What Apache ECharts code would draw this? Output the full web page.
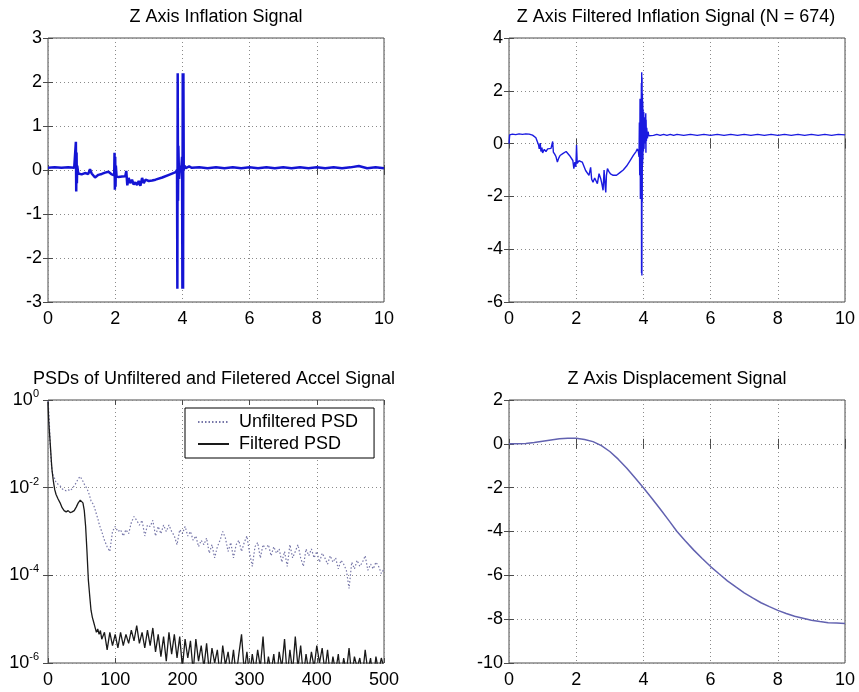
<!DOCTYPE html>
<html><head><meta charset="utf-8">
<script src="https://cdn.jsdelivr.net/npm/echarts@6/dist/echarts.min.js"></script>
<style>html,body{margin:0;padding:0;background:#fff}#c{width:859px;height:692px}</style>
</head><body><div id="c"></div>
<script>
const FONT = 'Liberation Sans, Arial, Helvetica, sans-serif';
const FRAME = '#4a4a4a';

const panelTitles = [
  'Z Axis Inflation Signal',
  'Z Axis Filtered Inflation Signal (N = 674)',
  'PSDs of Unfiltered and Filetered Accel Signal',
  'Z Axis Displacement Signal'
];
const legendNames = ['Unfiltered PSD', 'Filtered PSD'];

// Panel 1: [time s, value]
const inflation = [
  [0,0.05],[0.2,0.06],[0.4,0.05],[0.6,0.06],[0.78,0.05],[0.82,0.02],[0.83,0.64],[0.84,-0.49],[0.85,0.4],[0.86,-0.3],
  [0.87,0.1],[0.9,-0.08],[0.95,-0.04],[1.0,-0.1],[1.1,-0.07],[1.2,-0.09],[1.25,0.02],[1.3,-0.08],[1.4,-0.17],[1.5,-0.11],
  [1.6,-0.09],[1.7,-0.06],[1.8,-0.04],[1.9,-0.1],[1.97,-0.12],[1.98,0.39],[1.99,-0.45],[2.0,0.3],[2.01,-0.38],[2.02,0.1],
  [2.04,-0.15],[2.1,-0.16],[2.2,-0.15],[2.3,-0.14],[2.33,-0.02],[2.36,-0.35],[2.4,-0.18],[2.45,-0.3],[2.5,-0.22],[2.55,-0.33],
  [2.6,-0.28],[2.65,-0.34],[2.7,-0.25],[2.75,-0.36],[2.8,-0.18],[2.85,-0.3],[2.9,-0.22],[3.0,-0.25],[3.1,-0.24],[3.2,-0.22],
  [3.4,-0.17],[3.6,-0.11],[3.8,-0.05],[3.84,0.0],[3.85,-2.7],[3.86,2.2],[3.87,-0.7],[3.88,0.55],[3.9,-0.2],[3.93,0.1],
  [3.96,-0.05],[3.99,0.3],[4.0,-2.7],[4.01,2.2],[4.02,-2.7],[4.03,2.2],[4.04,0.0],[4.07,0.1],[4.1,0.04],[4.2,0.08],
  [4.24,0.11],[4.28,0.05],[4.5,0.06],[4.75,0.04],[5.0,0.06],[5.25,0.04],[5.5,0.06],[5.75,0.04],[6.0,0.06],[6.25,0.04],
  [6.5,0.06],[6.75,0.04],[7.0,0.06],[7.25,0.04],[7.5,0.06],[7.75,0.04],[8.0,0.06],[8.25,0.04],[8.5,0.06],[8.75,0.04],
  [9.0,0.06],[9.25,0.09],[9.5,0.04],[9.75,0.06],[10.0,0.04]
];

// Panel 2: [time s, value]
const filtered = [
  [0,0.0],[0.02,0.33],[0.1,0.36],[0.2,0.34],[0.3,0.37],[0.4,0.35],[0.5,0.37],[0.6,0.36],[0.7,0.32],[0.8,0.22],
  [0.85,0.15],[0.88,-0.05],[0.9,-0.2],[0.93,0.02],[0.95,-0.3],[0.98,-0.15],[1.0,-0.35],[1.05,-0.22],[1.1,-0.3],[1.15,-0.2],
  [1.2,-0.25],[1.25,-0.18],[1.3,0.08],[1.32,-0.32],[1.36,-0.4],[1.4,-0.5],[1.44,-0.7],[1.48,-0.55],[1.52,-0.45],[1.56,-0.5],
  [1.6,-0.38],[1.65,-0.42],[1.7,-0.3],[1.75,-0.35],[1.8,-0.45],[1.85,-0.5],[1.9,-0.64],[1.93,-0.95],[1.96,-0.7],[1.99,-0.88],
  [2.01,-0.05],[2.03,-0.75],[2.08,-0.65],[2.13,-0.58],[2.18,-0.7],[2.23,-0.64],[2.28,-1.02],[2.33,-0.95],[2.38,-1.2],[2.43,-0.9],
  [2.46,-1.35],[2.5,-1.46],[2.55,-1.3],[2.58,-1.25],[2.63,-1.52],[2.68,-1.14],[2.73,-1.33],[2.76,-1.5],[2.8,-1.77],[2.83,-1.0],
  [2.86,-1.6],[2.88,-1.85],[2.9,-1.2],[2.93,-0.95],[2.97,-1.05],[3.02,-1.15],[3.1,-1.2],[3.2,-1.2],[3.3,-1.1],[3.4,-1.0],
  [3.5,-0.85],[3.6,-0.65],[3.7,-0.45],[3.78,-0.3],[3.82,-0.2],[3.85,-0.3],[3.87,-0.5],[3.88,0.8],[3.89,-1.2],[3.9,1.7],
  [3.91,-2.1],[3.92,1.5],[3.93,-1.0],[3.94,2.3],[3.945,-4.9],[3.95,2.7],[3.955,-5.0],[3.96,2.5],[3.965,-2.2],[3.97,1.9],
  [3.975,-0.8],[3.98,1.6],[3.985,-0.6],[3.99,1.3],[4.0,-0.3],[4.01,1.2],[4.02,-0.2],[4.03,1.0],[4.04,0.0],[4.05,0.8],
  [4.06,0.1],[4.07,1.15],[4.075,-0.35],[4.08,0.9],[4.09,0.1],[4.1,0.6],[4.12,0.2],[4.14,0.45],[4.16,0.3],[4.2,0.35],
  [4.3,0.31],[4.4,0.35],[4.5,0.31],[4.6,0.35],[4.7,0.31],[4.8,0.35],[4.9,0.31],[5.0,0.35],[5.2,0.31],[5.4,0.35],
  [5.6,0.31],[5.8,0.35],[6.0,0.31],[6.2,0.35],[6.4,0.31],[6.6,0.35],[6.8,0.31],[7.0,0.35],[7.2,0.31],[7.4,0.35],
  [7.6,0.31],[7.8,0.35],[8.0,0.31],[8.2,0.35],[8.4,0.31],[8.6,0.35],[8.8,0.31],[9.0,0.35],[9.2,0.31],[9.4,0.35],
  [9.6,0.31],[9.8,0.35],[10.0,0.33]
];

// Panel 3: PSDs
const freq = [
  0,1,2,3,4,5,6,8,10,12, 15,18,21,24,27,30,33,36,39,42, 45,48,50,52,54,56,58,60,62,64, 66,68,70,72,74,76,78,80,
  84,88,92,96,100,104,108,112,116,120,
  124,128,132,136,140,144,148,152,156,160,
  164,168,172,176,180,184,188,192,196,200,
  204,208,212,216,220,224,228,232,236,240,
  244,248,252,256,260,264,268,272,276,280,
  284,288,292,296,300,304,308,312,316,320,
  324,328,332,336,340,344,348,352,356,360,
  364,368,372,376,380,384,388,392,396,400,
  404,408,412,416,420,424,428,432,436,440,
  444,448,452,456,460,464,468,472,476,480,
  484,488,492,496,500
];
const psdUnfiltered = [
  0.95,0.6,0.3,0.12,0.06,0.035,0.025,0.018,0.016,0.013, 0.012,0.011,0.0095,0.0088,0.0085,0.009,0.0085,0.0095,0.011,0.013,
  0.016,0.018,0.017,0.014,0.012,0.011,0.0095,0.008,0.0065,0.005, 0.0045,0.004,0.0032,0.0025,0.002,0.0015,0.0012,0.001,
  6.3e-4,4.5e-4,3.5e-4,1.0e-3,1.3e-3,1.0e-3,1.1e-3,7.9e-4,1.1e-3,8.9e-4,
  1.6e-3,2.2e-3,1.8e-3,1.4e-3,1.8e-3,7.9e-4,1.4e-3,1.3e-3,1.8e-3,7.9e-4,
  1.3e-3,8.9e-4,1.4e-3,1.0e-3,1.4e-3,1.0e-3,7.9e-4,5.0e-4,1.1e-3,8.9e-4,
  1.3e-3,7.9e-4,1.0e-3,6.3e-4,7.9e-4,4.5e-4,6.3e-4,5.0e-4,7.1e-4,3.2e-4,
  5.0e-4,2.5e-4,4.5e-4,6.3e-4,1.0e-3,7.1e-4,3.5e-4,5.6e-4,2.5e-4,5.0e-4,
  6.3e-4,3.5e-4,5.6e-4,7.9e-4,3.2e-4,1.6e-4,4.5e-4,5.6e-4,2.5e-4,5.0e-4,
  4.0e-4,5.0e-4,2.8e-4,4.5e-4,3.2e-4,4.0e-4,2.0e-4,3.5e-4,1.6e-4,5.0e-4,
  2.5e-4,3.5e-4,5.0e-4,2.5e-4,1.6e-4,4.0e-4,2.8e-4,4.0e-4,2.5e-4,3.5e-4,
  2.0e-4,3.2e-4,2.5e-4,1.8e-4,2.8e-4,2.0e-4,2.5e-4,1.4e-4,2.2e-4,1.8e-4,
  1.3e-4,5.0e-5,2.0e-4,1.4e-4,2.2e-4,1.6e-4,2.0e-4,2.8e-4,1.3e-4,1.8e-4,
  1.4e-4,2.0e-4,1.6e-4,1.1e-4,1.4e-4
];
const psdFiltered = [
  0.9,0.35,0.2,0.12,0.07,0.04,0.025,0.014,0.009,0.007, 0.0055,0.0045,0.0035,0.003,0.0028,0.003,0.0027,0.0028,0.003,0.0036,
  0.0045,0.0052,0.005,0.0045,0.003,0.0013,3.5e-4,8e-5,3.5e-5,1.6e-5, 1.1e-5,8.5e-6,8e-6,5e-6,6e-6,4.5e-6,5.5e-6,3.5e-6,
  5.0e-6,2.0e-6,5.0e-6,2.5e-6,4.5e-6,2.2e-6,5.0e-6,2.5e-6,4.5e-6,2.8e-6,
  5.6e-6,3.2e-6,7.1e-6,2.8e-6,5.0e-6,2.2e-6,5.6e-6,2.5e-6,6.3e-6,1.8e-6,
  4.5e-6,1.4e-6,4.0e-6,1.1e-6,5.0e-6,1.6e-6,4.5e-6,1.3e-6,4.0e-6,7.9e-7,
  3.5e-6,1.3e-6,3.2e-6,6.3e-7,3.5e-6,1.1e-6,2.5e-6,7.9e-7,2.8e-6,6.3e-7,
  2.2e-6,1.0e-6,2.0e-6,5.0e-7,2.5e-6,8.9e-7,1.8e-6,6.3e-7,2.0e-6,5.0e-7,
  1.6e-6,4.5e-6,6.3e-7,1.8e-6,5.0e-7,1.6e-6,6.3e-7,2.0e-6,7.9e-7,4.0e-6,
  5.0e-7,1.4e-6,6.3e-7,1.6e-6,4.0e-7,1.8e-6,7.9e-7,3.5e-6,5.0e-7,2.0e-6,
  6.3e-7,4.0e-6,7.9e-7,2.5e-6,5.0e-7,1.6e-6,6.3e-7,1.8e-6,7.9e-7,2.5e-6,
  1.0e-6,2.2e-6,6.3e-7,2.0e-6,5.0e-7,1.4e-6,6.3e-7,1.6e-6,4.0e-7,1.3e-6,
  6.3e-7,2.2e-6,5.0e-7,1.4e-6,7.9e-7,1.3e-6,5.0e-7,2.0e-6,6.3e-7,1.3e-6,
  4.0e-7,1.4e-6,6.3e-7,1.3e-6,7.9e-7
];

// Panel 4: [time s, displacement]
const displacement = [
  [0,0],[0.25,0],[0.5,0.02],[0.75,0.06],[1.0,0.12],[1.25,0.18],[1.5,0.23],[1.75,0.26],[2.0,0.25],[2.25,0.2],
  [2.5,0.1],[2.75,-0.08],[3.0,-0.35],[3.25,-0.7],[3.5,-1.1],[3.75,-1.55],[4.0,-2.0],[4.25,-2.48],[4.5,-2.97],[4.75,-3.48],
  [5.0,-4.0],[5.25,-4.43],[5.5,-4.85],[5.75,-5.23],[6.0,-5.6],[6.25,-5.93],[6.5,-6.25],[6.75,-6.53],[7.0,-6.8],[7.25,-7.03],
  [7.5,-7.25],[7.75,-7.43],[8.0,-7.6],[8.25,-7.74],[8.5,-7.87],[8.75,-7.96],[9.0,-8.05],[9.25,-8.11],[9.5,-8.16],[9.75,-8.18],[10.0,-8.2]
];

const xTicks1 = {min:0, max:10, interval:2};
const yTicks1 = {min:-3, max:3, interval:1};
const yTicks2 = {min:-6, max:4, interval:2};
const xTicks3 = {min:0, max:500, interval:100};
const yTicks3 = {min:1e-6, max:1, interval:2};
const yTicks4 = {min:-10, max:2, interval:2};

const grids = [
  {left:48, top:38, width:336, height:264},
  {left:509, top:38, width:336, height:264},
  {left:48, top:400, width:336, height:263},
  {left:509, top:400, width:336, height:263}
].map(g => Object.assign({show:true, borderColor:FRAME, borderWidth:1, backgroundColor:'#fff', containLabel:false}, g));

const gridLine = {show:true, lineStyle:{color:'#8a8a8a', width:1, type:[1,3]}};
const tick = {show:true, inside:true, length:5, lineStyle:{color:FRAME}};
const lab = {fontSize:18, color:'#000', fontFamily:FONT};

function mkX(gi, t, type) {
  return [
    Object.assign({type:type||'value', gridIndex:gi, position:'bottom', axisLine:{show:false}, axisTick:tick,
      axisLabel:Object.assign({margin:8}, lab), splitLine:gridLine}, t),
    Object.assign({type:type||'value', gridIndex:gi, position:'top', axisLine:{show:false}, axisTick:tick,
      axisLabel:{show:false}, splitLine:{show:false}}, t)
  ];
}
function mkY(gi, t, type, extraLabel) {
  return [
    Object.assign({type:type||'value', gridIndex:gi, position:'left', axisLine:{show:false}, axisTick:tick,
      axisLabel:Object.assign({margin:6}, lab, extraLabel||{}), splitLine:gridLine}, t),
    Object.assign({type:type||'value', gridIndex:gi, position:'right', axisLine:{show:false}, axisTick:tick,
      axisLabel:{show:false}, splitLine:{show:false}}, t)
  ];
}
const logLabel = {
  margin:9,
  formatter: v => '{b|10}{s|' + Math.round(Math.log10(v)) + '}',
  rich: {
    b:{fontSize:18, fontFamily:FONT, color:'#000'},
    s:{fontSize:11, fontFamily:FONT, color:'#000', padding:[0,0,12,0]}
  }
};

const xAxis = [].concat(mkX(0, xTicks1), mkX(1, xTicks1), mkX(2, xTicks3), mkX(3, xTicks1));
const yAxis = [].concat(mkY(0, yTicks1), mkY(1, yTicks2), mkY(2, Object.assign({logBase:10}, yTicks3), 'log', logLabel), mkY(3, yTicks4));

const titleCenters = [[216, 8], [676, 8], [214, 370], [677, 370]];

const option = {
  animation:false,
  backgroundColor:'#fff',
  title: panelTitles.map((t, i) => ({
    text:t, left:titleCenters[i][0], top:titleCenters[i][1], textAlign:'center', padding:0,
    textStyle:{fontSize:18, fontWeight:'normal', color:'#000', fontFamily:FONT}
  })),
  grid: grids,
  xAxis: xAxis,
  yAxis: yAxis,
  legend: {
    data: legendNames, orient:'vertical', left:185, top:408, itemWidth:31, itemHeight:14, itemGap:2,
    padding:[4,16,4,12], borderColor:'#000', borderWidth:1, backgroundColor:'#fff', selectedMode:false,
    itemStyle:{opacity:0},
    textStyle:{fontSize:18, color:'#000', fontFamily:FONT, lineHeight:20, padding:[0,0,0,5]}
  },
  series: [
    {type:'line', name:'inflation', xAxisIndex:0, yAxisIndex:0, data:inflation, symbol:'none',
      lineStyle:{color:'#1414d4', width:2.5}},
    {type:'line', name:'filtered', xAxisIndex:2, yAxisIndex:2, data:filtered, symbol:'none',
      lineStyle:{color:'#1a1ae0', width:1.4}},
    {type:'line', name:legendNames[0], xAxisIndex:4, yAxisIndex:4, data:freq.map((f, i) => [f, psdUnfiltered[i]]), symbol:'none',
      itemStyle:{color:'#7676a8'}, lineStyle:{color:'#7676a8', width:1.2, type:[1.5,2]}},
    {type:'line', name:legendNames[1], xAxisIndex:4, yAxisIndex:4, data:freq.map((f, i) => [f, psdFiltered[i]]), symbol:'none',
      itemStyle:{color:'#1a1a1a'}, lineStyle:{color:'#1a1a1a', width:1.3}},
    {type:'line', name:'displacement', xAxisIndex:6, yAxisIndex:6, data:displacement, symbol:'none',
      lineStyle:{color:'#6262b0', width:1.5}}
  ]
};
echarts.init(document.getElementById('c'), null, {renderer:'canvas'}).setOption(option);
</script></body></html>
